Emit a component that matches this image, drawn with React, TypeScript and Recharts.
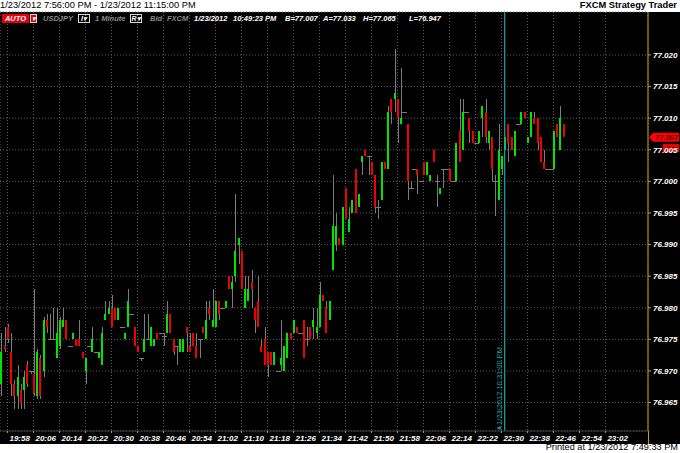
import React from 'react'
import {
  ComposedChart,
  Bar,
  XAxis,
  YAxis,
  CartesianGrid,
  ReferenceLine,
} from 'recharts'

// one candle per minute, first one at 19:56
const firstCandle = '19:56'

const opens = [
  76.968, 76.974, 76.977, 76.973, 76.968, 76.966, 76.967, 76.967, 76.971, 76.97,
  76.9695, 76.966, 76.972, 76.97, 76.978, 76.975, 76.975, 76.972, 76.974, 76.977,
  76.978, 76.974, 76.975, 76.975, 76.975, 76.973, 76.97, 76.974, 76.973, 76.973,
  76.972, 76.971, 76.978, 76.979, 76.98, 76.98, 76.978, 76.977, 76.975, 76.977,
  76.979, 76.977, 76.974, 76.972, 76.973, 76.975, 76.974, 76.974, 76.976, 76.976,
  76.9755, 76.976, 76.979, 76.975, 76.974, 76.973, 76.973, 76.977, 76.974, 76.976,
  76.974, 76.975, 76.977, 76.975, 76.98, 76.977, 76.977, 76.981, 76.98, 76.98,
  76.985, 76.983, 76.985, 76.99, 76.989, 76.98, 76.981, 76.984, 76.98, 76.981,
  76.974, 76.975, 76.973, 76.973, 76.971, 76.97, 76.971, 76.97, 76.972, 76.976,
  76.976, 76.977, 76.976, 76.978, 76.975, 76.977, 76.977, 76.976, 76.977, 76.982,
  76.98, 76.978, 76.986, 76.99, 76.991, 76.99, 76.999, 76.992, 76.995, 77.002,
  76.996, 77.003, 77.005, 77.004, 77.003, 77.001, 76.996, 76.997, 77.003, 77.002,
  77.013, 77.013, 77.013, 77.009, 77.011, 77.009, 76.999, 77.002, 77.002, 77.0,
  77.003, 77.001, 77.0, 77.005, 77.0, 76.998, 77.002, 77.002, 77.002, 77.0,
  77.0, 77.008, 77.005, 77.011, 77.01, 77.008, 77.006, 77.006, 77.01, 77.011,
  77.006, 77.007, 77.0, 76.997, 77.002, 77.005, 77.009, 77.007, 77.004, 77.009,
  77.009, 77.011, 77.006, 77.007, 77.01, 77.01, 77.007, 77.003, 77.002, 77.002,
  77.002, 77.009, 77.005, 77.009,
]

const highs = [
  76.976, 76.977, 76.9775, 76.976, 76.9685, 76.971, 76.968, 76.97, 76.9715, 76.97,
  76.983, 76.9735, 76.9725, 76.9785, 76.979, 76.979, 76.98, 76.98, 76.9785, 76.98,
  76.978, 76.974, 76.976, 76.975, 76.978, 76.973, 76.972, 76.974, 76.977, 76.973,
  76.973, 76.977, 76.981, 76.981, 76.982, 76.98, 76.98, 76.977, 76.976, 76.983,
  76.979, 76.977, 76.974, 76.972, 76.979, 76.979, 76.977, 76.975, 76.976, 76.976,
  76.976, 76.981, 76.979, 76.975, 76.974, 76.975, 76.975, 76.977, 76.976, 76.976,
  76.976, 76.975, 76.977, 76.981, 76.981, 76.983, 76.981, 76.981, 76.98, 76.981,
  76.985, 76.985, 76.998, 76.991, 76.989, 76.985, 76.985, 76.986, 76.98, 76.985,
  76.975, 76.977, 76.973, 76.973, 76.973, 76.97, 76.978, 76.974, 76.976, 76.976,
  76.978, 76.977, 76.976, 76.978, 76.977, 76.977, 76.98, 76.98, 76.984, 76.982,
  76.981, 76.981, 77.001, 76.995, 76.991, 76.996, 76.999, 76.996, 76.997, 77.002,
  76.998, 77.004, 77.005, 77.004, 77.003, 77.001, 76.997, 77.003, 77.003, 77.012,
  77.013, 77.021, 77.013, 77.018, 77.011, 77.009, 77.0, 77.002, 77.002, 77.0,
  77.003, 77.003, 77.001, 77.005, 77.001, 76.999, 77.002, 77.002, 77.002, 77.0,
  77.006, 77.013, 77.013, 77.011, 77.01, 77.008, 77.006, 77.008, 77.012, 77.013,
  77.008, 77.007, 77.001, 77.009, 77.004, 77.007, 77.009, 77.007, 77.008, 77.009,
  77.011, 77.011, 77.007, 77.011, 77.011, 77.01, 77.007, 77.005, 77.002, 77.002,
  77.008, 77.009, 77.012, 77.009,
]

const lows = [
  76.966, 76.973, 76.9745, 76.966, 76.964, 76.964, 76.964, 76.964, 76.9675, 76.9695,
  76.966, 76.9655, 76.9655, 76.969, 76.976, 76.975, 76.975, 76.972, 76.9735, 76.977,
  76.975, 76.974, 76.975, 76.974, 76.974, 76.972, 76.968, 76.974, 76.973, 76.973,
  76.972, 76.971, 76.978, 76.979, 76.977, 76.978, 76.978, 76.977, 76.975, 76.977,
  76.979, 76.974, 76.973, 76.9715, 76.973, 76.975, 76.974, 76.974, 76.975, 76.976,
  76.974, 76.976, 76.976, 76.9725, 76.971, 76.973, 76.973, 76.973, 76.973, 76.974,
  76.972, 76.972, 76.976, 76.975, 76.978, 76.977, 76.977, 76.978, 76.98, 76.98,
  76.983, 76.98, 76.984, 76.987, 76.983, 76.98, 76.981, 76.98, 76.976, 76.977,
  76.973, 76.971, 76.969, 76.971, 76.971, 76.97, 76.97, 76.97, 76.972, 76.975,
  76.976, 76.976, 76.976, 76.972, 76.974, 76.975, 76.975, 76.975, 76.977, 76.981,
  76.976, 76.978, 76.986, 76.989, 76.99, 76.99, 76.994, 76.992, 76.995, 76.995,
  76.996, 77.001, 77.004, 77.001, 77.001, 76.995, 76.994, 76.997, 77.002, 77.002,
  77.009, 77.011, 77.006, 77.009, 77.011, 76.997, 76.999, 77.002, 76.998, 77.0,
  77.001, 77.001, 77.0, 77.003, 76.996, 76.998, 76.999, 77.002, 77.0, 77.0,
  77.0, 77.003, 77.005, 77.011, 77.006, 77.006, 77.006, 77.006, 77.007, 77.006,
  77.005, 77.0, 76.9945, 76.997, 77.001, 77.005, 77.003, 77.005, 77.004, 77.009,
  77.009, 77.01, 77.006, 77.007, 77.009, 77.005, 77.003, 77.002, 77.002, 77.002,
  77.002, 77.007, 77.005, 77.007,
]

const closes = [
  76.973, 76.9735, 76.975, 76.968, 76.966, 76.969, 76.965, 76.969, 76.968, 76.97,
  76.9665, 76.973, 76.966, 76.978, 76.977, 76.975, 76.975, 76.976, 76.978, 76.978,
  76.975, 76.974, 76.976, 76.974, 76.974, 76.972, 76.972, 76.974, 76.975, 76.973,
  76.973, 76.976, 76.979, 76.98, 76.977, 76.978, 76.98, 76.977, 76.976, 76.981,
  76.979, 76.974, 76.973, 76.972, 76.975, 76.975, 76.977, 76.975, 76.975, 76.976,
  76.9755, 76.979, 76.976, 76.973, 76.974, 76.975, 76.975, 76.976, 76.973, 76.974,
  76.972, 76.975, 76.976, 76.978, 76.979, 76.978, 76.981, 76.979, 76.98, 76.981,
  76.983, 76.984, 76.989, 76.991, 76.983, 76.983, 76.983, 76.983, 76.978, 76.977,
  76.973, 76.971, 76.971, 76.971, 76.973, 76.97, 76.972, 76.974, 76.976, 76.975,
  76.978, 76.976, 76.976, 76.972, 76.975, 76.975, 76.978, 76.977, 76.982, 76.981,
  76.976, 76.981, 76.993, 76.993, 76.99, 76.996, 76.994, 76.994, 76.997, 76.995,
  76.998, 77.004, 77.004, 77.004, 77.001, 76.996, 76.996, 77.003, 77.002, 77.011,
  77.011, 77.014, 77.01, 77.01, 77.011, 77.0, 76.999, 77.002, 77.001, 77.0,
  77.001, 77.003, 77.001, 77.003, 77.0, 76.999, 77.002, 77.002, 77.0, 77.0,
  77.006, 77.003, 77.011, 77.011, 77.008, 77.006, 77.006, 77.008, 77.012, 77.007,
  77.008, 77.002, 77.0, 77.005, 77.004, 77.007, 77.006, 77.005, 77.008, 77.009,
  77.011, 77.01, 77.007, 77.011, 77.009, 77.006, 77.003, 77.002, 77.002, 77.002,
  77.008, 77.007, 77.01, 77.007,
]

const timeLabels = [
  '19:58', '20:06', '20:14', '20:22', '20:30', '20:38', '20:46', '20:54',
  '21:02', '21:10', '21:18', '21:26', '21:34', '21:42', '21:50', '21:58',
  '22:06', '22:14', '22:22', '22:30', '22:38', '22:46', '22:54', '23:02',
]

const priceTicks = [
  76.965, 76.97, 76.975, 76.98, 76.985, 76.99, 76.995, 77.0, 77.005, 77.01,
  77.015, 77.02,
]

const markerTime = '22:31'
const markerText = '1/23/2012 10:31:00 PM'
const lastPrice = 77.007

const toMin = (t: string) => {
  const [h, m] = t.split(':').map(Number)
  return h * 60 + m
}
const base = toMin(firstCandle)
const minuteOf = (t: string) => toMin(t) - base

const candles = opens.map((o, i) => ({
  i,
  open: o,
  high: highs[i],
  low: lows[i],
  close: closes[i],
  range: [lows[i], highs[i]],
}))

const xTicks = timeLabels.map(minuteOf)

const GREEN = '#00e400'
const RED = '#f00000'
const WICK = '#7c7c7c'
const GOLD = '#c9a200'
const CYAN = '#1aa8a8'

const renderCandle = (props: any) => {
  const { x, y, width, height, payload } = props
  const cx = Math.round(x + width / 2)
  const top = height < 0 ? y + height : y
  const h = Math.abs(height || 0)
  const { open, close, high, low } = payload
  const k = high - low > 0 ? h / (high - low) : 0
  const yOf = (v: number) => top + (high - v) * k
  const parts = []
  if (h > 0) {
    parts.push(
      <rect key="w" x={cx} y={top} width={1} height={h} fill={WICK} shapeRendering="crispEdges" />,
    )
  }
  if (open === close) {
    parts.push(
      <rect key="d" x={cx - 2} y={Math.round(yOf(open))} width={5} height={1} fill={WICK} shapeRendering="crispEdges" />,
    )
  } else {
    const y1 = yOf(Math.max(open, close))
    const y2 = yOf(Math.min(open, close))
    parts.push(
      <rect
        key="b"
        x={cx - 1}
        y={y1}
        width={2}
        height={Math.max(1, y2 - y1)}
        fill={close > open ? GREEN : RED}
        shapeRendering="crispEdges"
      />,
    )
  }
  return <g>{parts}</g>
}

const TimeTick = (props: any) => {
  const { x, y, payload } = props
  const idx = xTicks.indexOf(payload.value)
  return (
    <text
      x={x + 2}
      y={y + 6}
      fill="#fff"
      fontSize={8}
      fontWeight="bold"
      fontStyle="italic"
      fontFamily='"Liberation Sans", Arial, sans-serif'
    >
      {timeLabels[idx]}
    </text>
  )
}

const renderMarkerLabel = (props: any) => {
  const vb = props.viewBox || {}
  const bx = vb.x
  const by = vb.y + vb.height
  return (
    <g>
      <text
        transform={`translate(${bx - 2.5},${by - 6}) rotate(-90)`}
        fill={CYAN}
        fontSize={7.5}
        fontFamily='"Liberation Sans", Arial, sans-serif'
      >
        {markerText}
      </text>
      <polygon points={`${bx - 8},${by - 3} ${bx - 4},${by - 5} ${bx - 4},${by - 1}`} fill={CYAN} />
    </g>
  )
}

const renderPriceTag = (props: any) => {
  const vb = props.viewBox || {}
  const px = vb.x + vb.width + 1
  const py = vb.y
  return (
    <g fontFamily='"Liberation Sans", Arial, sans-serif' fontStyle="italic" fontWeight="bold">
      <polygon
        points={`${px},${py} ${px + 4},${py - 4.5} ${px + 30},${py - 4.5} ${px + 30},${py + 4.5} ${px + 4},${py + 4.5}`}
        fill="#ff0000"
      />
      <text x={px + 6} y={py + 3} fontSize={7.5} fill="#6a0000">
        {lastPrice.toFixed(3)}
      </text>
      <rect x={px + 14} y={py + 7} width={16} height={8} fill="#ff0000" />
      <text x={px + 16} y={py + 13.5} fontSize={7.5} fill="#6a0000">
        27s
      </text>
    </g>
  )
}

const font = '"Liberation Sans", Arial, sans-serif'

const headLabel = (left: number, text: string, color: string) => (
  <div
    style={{
      position: 'absolute',
      left,
      top: 14,
      fontSize: 7.5,
      lineHeight: '9px',
      fontStyle: 'italic',
      fontWeight: 'bold',
      color,
      whiteSpace: 'pre',
    }}
  >
    {text}
  </div>
)

const boxStyle: React.CSSProperties = {
  position: 'absolute',
  top: 14,
  height: 7,
  border: '1px solid #d8d8d8',
  color: '#fff',
  fontSize: 7,
  lineHeight: '7px',
  fontWeight: 'bold',
  fontStyle: 'italic',
  textAlign: 'center',
}

export default function App() {
  return (
    <div
      style={{
        position: 'relative',
        width: 680,
        height: 453,
        background: '#fff',
        fontFamily: font,
        overflow: 'hidden',
      }}
    >
      <style>{'body { margin: 0; }'}</style>
      <div style={{ position: 'absolute', left: 0, top: 12, width: 680, height: 432, background: '#000' }} />
      <div style={{ position: 'absolute', left: 0, top: 0, fontSize: 9.3, lineHeight: '11px', color: '#000' }}>
        1/23/2012 7:56:00 PM - 1/23/2012 11:15:00 PM
      </div>
      <div
        style={{
          position: 'absolute',
          right: 3,
          top: 0,
          fontSize: 9.3,
          lineHeight: '11px',
          fontWeight: 'bold',
          color: '#000',
        }}
      >
        FXCM Strategy Trader
      </div>
      <div style={{ position: 'absolute', left: 0, top: 0 }}>
        <ComposedChart
          width={680}
          height={453}
          data={candles}
          margin={{ top: 12, right: 0, bottom: 9, left: 0 }}
        >
          <CartesianGrid stroke="#5e5e5e" strokeDasharray="1 2" />
          <XAxis
            dataKey="i"
            type="number"
            domain={[-0.3, 199.1]}
            allowDataOverflow
            ticks={xTicks}
            interval={0}
            height={13}
            tickSize={2}
            axisLine={{ stroke: '#3c3c3c' }}
            tickLine={{ stroke: GOLD }}
            tick={<TimeTick />}
          />
          <YAxis
            orientation="right"
            type="number"
            domain={[76.9605, 77.0268]}
            allowDataOverflow
            ticks={priceTicks}
            interval={0}
            width={32}
            tickSize={3}
            tickMargin={2}
            axisLine={{ stroke: GOLD }}
            tickLine={{ stroke: GOLD }}
            tick={{ fill: '#fff', fontSize: 8, fontWeight: 'bold', fontStyle: 'italic', fontFamily: font }}
            tickFormatter={(v: number) => v.toFixed(3)}
          />
          <Bar dataKey="range" barSize={2} shape={renderCandle} isAnimationActive={false} />
          <ReferenceLine x={minuteOf(markerTime)} stroke={CYAN} strokeWidth={1.2} label={renderMarkerLabel} />
          <ReferenceLine y={lastPrice} stroke="none" label={renderPriceTag} />
        </ComposedChart>
      </div>
      <div style={{ position: 'absolute', left: 648, top: 431, width: 1, height: 13, background: GOLD }} />
      <div
        style={{
          position: 'absolute',
          left: 2,
          top: 14,
          width: 27,
          height: 9,
          background: '#e6000a',
          color: '#fff',
          fontSize: 7.5,
          lineHeight: '9px',
          fontWeight: 'bold',
          fontStyle: 'italic',
          textAlign: 'center',
        }}
      >
        AUTO
      </div>
      <div style={{ ...boxStyle, left: 30, width: 5, background: '#e6000a' }}>▾</div>
      {headLabel(43, 'USDJPY', '#8a8a8a')}
      <div style={{ ...boxStyle, left: 78, width: 10 }}>I▾</div>
      {headLabel(95, '1 Minute', '#8a8a8a')}
      <div style={{ ...boxStyle, left: 130, width: 10 }}>R▾</div>
      {headLabel(150, 'Bid', '#8a8a8a')}
      {headLabel(167, 'FXCM', '#8a8a8a')}
      {headLabel(194, '1/23/2012', '#fff')}
      {headLabel(233, '10:49:23 PM', '#fff')}
      {headLabel(285, 'B=77.007', '#fff')}
      {headLabel(323, 'A=77.033', '#fff')}
      {headLabel(363, 'H=77.065', '#fff')}
      {headLabel(409, 'L=76.947', '#fff')}
      <div style={{ position: 'absolute', right: 2, top: 442, fontSize: 9.2, lineHeight: '11px', color: '#000' }}>
        Printed at 1/23/2012 7:49:33 PM
      </div>
    </div>
  )
}
